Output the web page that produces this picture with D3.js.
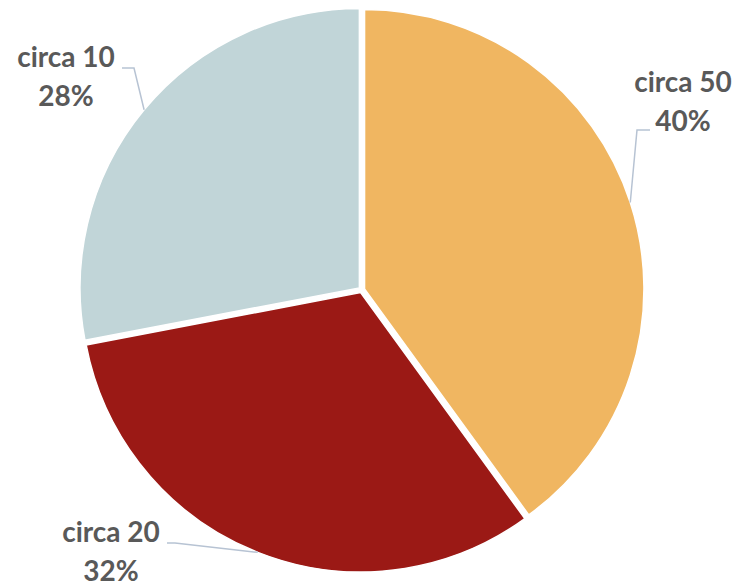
<!DOCTYPE html>
<html><head><meta charset="utf-8">
<script src="https://cdn.jsdelivr.net/npm/d3@7"></script>
<style>html,body{margin:0;padding:0;background:#fff;}</style>
</head><body>
<svg id="chart" width="740" height="587"></svg>
<script>
const categories = ["circa 50", "circa 20", "circa 10"];
const values = [40, 32, 28];
const percentLabels = ["40%", "32%", "28%"];
const colors = ["#F0B661", "#9B1915", "#C1D5D8"];
// label anchor positions (layout)
const labelPos = [[683, 92], [111, 542], [66, 67]];
const elbow = [[650, 130, 637], [167, 543, 175], [122, 68, 134]];

const svg = d3.select("#chart");
const cx = 361.7, cy = 289.8, r = 279.4, explode = 3;
const pie = d3.pie().sort(null).value(d => d)(values);
const arc = d3.arc().innerRadius(0).outerRadius(r);
const g = svg.append("g").attr("transform", `translate(${cx},${cy})`);

pie.forEach((p, i) => {
  const mid = (p.startAngle + p.endAngle) / 2;
  const ox = Math.sin(mid) * explode, oy = -Math.cos(mid) * explode;
  g.append("path").attr("d", arc(p))
    .attr("transform", `translate(${ox},${oy})`)
    .attr("fill", colors[i]).attr("stroke", "#fff").attr("stroke-width", 1.5);
  const ex = cx + ox + Math.sin(mid) * r, ey = cy + oy - Math.cos(mid) * r;
  const [x1, y1, x2] = elbow[i];
  svg.append("polyline")
    .attr("points", `${x1},${y1} ${x2},${y1} ${ex},${ey}`)
    .attr("fill", "none").attr("stroke", "#B7C3D3").attr("stroke-width", 1.5);
  const t = svg.append("text").attr("x", labelPos[i][0]).attr("y", labelPos[i][1])
    .attr("text-anchor", "middle").attr("font-family", "Lato, 'Open Sans', sans-serif")
    .attr("font-weight", "bold").attr("font-size", 28).attr("fill", "#595959");
  t.append("tspan").attr("x", labelPos[i][0]).text(categories[i]);
  t.append("tspan").attr("x", labelPos[i][0]).attr("dy", 39).text(percentLabels[i]);
});
</script>
</body></html>
